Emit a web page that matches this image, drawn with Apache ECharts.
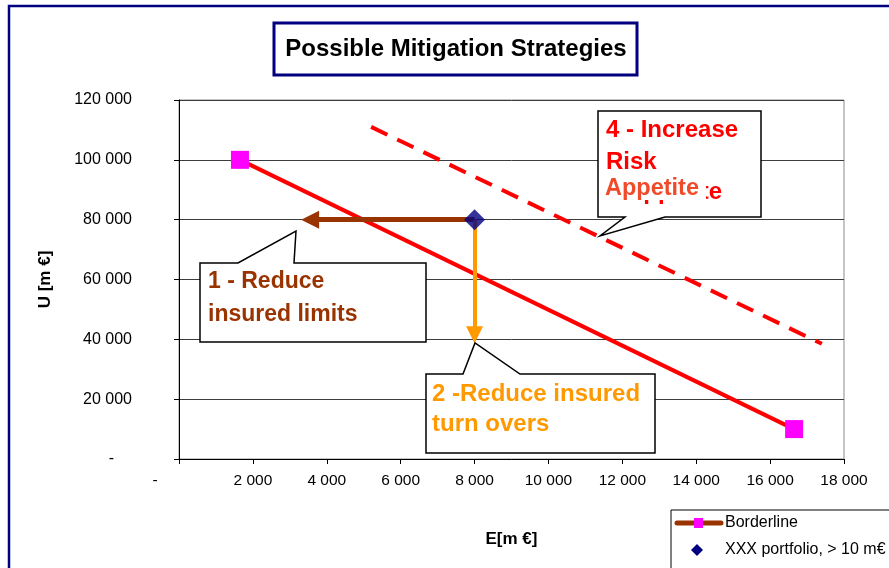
<!DOCTYPE html>
<html>
<head>
<meta charset="utf-8">
<script src="https://cdn.jsdelivr.net/npm/echarts@6/dist/echarts.min.js"></script>
<style>
  html, body { margin: 0; padding: 0; background: #fff; }
  #chart { width: 889px; height: 568px; }
</style>
</head>
<body>
<div id="chart"></div>
<script>
// Axis ranges and tick steps
const xRange = [0, 18000];
const xStep = 2000;
const yRange = [0, 120000];
const yStep = 20000;

// Borderline between the two end points (E, U)
const borderline = [[1650, 100000], [16650, 10000]];
// Shifted borderline after increasing risk appetite
const riskAppetiteLine = [[5200, 111000], [17400, 38500]];
// Current portfolio position
const portfolio = [[8000, 80000]];
// Strategy arrows: start and end of each move
const reduceLimitsArrow = [[8000, 80000], [3550, 80000]];
const reduceTurnoverArrow = [[8000, 80000], [8000, 41500]];

const FONT = 'Arial, "Liberation Sans", sans-serif';

function fmt(v) {
  return String(v).replace(/\B(?=(\d{3})+(?!\d))/g, ' ');
}

const chart = echarts.init(document.getElementById('chart'), null, { renderer: 'canvas' });

const option = {
  backgroundColor: '#ffffff',
  animation: false,
  grid: {
    left: 179, right: 45, top: 100, bottom: 109,
    show: true, borderColor: '#8c8c8c', borderWidth: 1, backgroundColor: 'transparent'
  },
  xAxis: {
    type: 'value', min: xRange[0], max: xRange[1], interval: xStep,
    name: 'E[m €]', nameLocation: 'middle', nameGap: 72,
    nameTextStyle: { fontFamily: FONT, fontWeight: 'bold', fontSize: 17, color: '#000' },
    axisLine: { show: true, onZero: false, lineStyle: { color: '#000', width: 1 } },
    axisTick: { show: true, length: 5, lineStyle: { color: '#000' } },
    splitLine: { show: false },
    axisLabel: {
      margin: 14, fontFamily: FONT, fontSize: 15.5, color: '#000',
      formatter: v => v === 0 ? '{z|-}' : fmt(v),
      rich: { z: { fontFamily: FONT, fontSize: 15.5, color: '#000', padding: [0, 48, 0, 0] } }
    }
  },
  yAxis: {
    type: 'value', min: yRange[0], max: yRange[1], interval: yStep,
    name: 'U [m €]', nameLocation: 'middle', nameGap: 125, nameRotate: 90,
    nameTextStyle: { fontFamily: FONT, fontWeight: 'bold', fontSize: 17, color: '#000' },
    axisLine: { show: true, onZero: false, lineStyle: { color: '#000', width: 1 } },
    axisTick: { show: true, length: 5, lineStyle: { color: '#000' } },
    splitLine: { show: true, lineStyle: { color: '#3c3c3c', width: 1 } },
    axisLabel: {
      margin: 47, fontFamily: FONT, fontSize: 16, color: '#000',
      formatter: v => v === 0 ? '{z|-}' : fmt(v),
      rich: { z: { fontFamily: FONT, fontSize: 16, color: '#000', padding: [0, 18, 0, 0] } }
    }
  },
  series: [
    {
      name: 'Increase risk appetite', type: 'line', data: riskAppetiteLine,
      symbol: 'none', z: 3,
      lineStyle: { color: '#ff0000', width: 4, type: [18, 11] }
    },
    {
      name: 'Borderline', type: 'line', data: borderline,
      symbol: 'rect', symbolSize: 18, z: 4,
      lineStyle: { color: '#ff0000', width: 4 },
      itemStyle: { color: '#ff00ff' }
    },
    {
      name: 'Reduce insured limits', type: 'lines', coordinateSystem: 'cartesian2d',
      z: 5, symbol: ['none', 'triangle'], symbolSize: 18,
      lineStyle: { color: '#993300', width: 5, opacity: 1, curveness: 0 },
      data: [{ coords: reduceLimitsArrow }]
    },
    {
      name: 'Reduce insured turn overs', type: 'lines', coordinateSystem: 'cartesian2d',
      z: 5, symbol: ['none', 'triangle'], symbolSize: 17,
      lineStyle: { color: '#ff9900', width: 4, opacity: 1, curveness: 0 },
      data: [{ coords: reduceTurnoverArrow }]
    },
    {
      name: 'XXX portfolio, > 10 m€', type: 'scatter', data: portfolio,
      symbol: 'diamond', symbolSize: 21, z: 6,
      itemStyle: { color: '#000080' }
    }
  ],
  graphic: [
    // outer chart frame
    { type: 'rect', z: 50, silent: true,
      shape: { x: 9, y: 6, width: 900, height: 600 },
      style: { fill: 'none', stroke: '#000080', lineWidth: 2.5 } },
    // title box
    { type: 'rect', z: 50, silent: true,
      shape: { x: 274, y: 23, width: 363, height: 52 },
      style: { fill: '#fff', stroke: '#000080', lineWidth: 3 } },
    { type: 'text', z: 51, silent: true, x: 456, y: 49,
      style: { text: 'Possible Mitigation Strategies', font: 'bold 24px ' + FONT,
               fill: '#000', align: 'center', verticalAlign: 'middle' } },

    // callout 1
    { type: 'polygon', z: 60, silent: true,
      shape: { points: [[200,263],[238,263],[296,231],[294,263],[426,263],[426,342],[200,342]] },
      style: { fill: '#fff', stroke: '#000', lineWidth: 1.5 } },
    { type: 'text', z: 61, silent: true, x: 208, y: 282,
      style: { text: '1 - Reduce', font: 'bold 23px ' + FONT, fill: '#993300', verticalAlign: 'middle' } },
    { type: 'text', z: 61, silent: true, x: 208, y: 315,
      style: { text: 'insured limits', font: 'bold 23px ' + FONT, fill: '#993300', verticalAlign: 'middle' } },

    // callout 2
    { type: 'polygon', z: 60, silent: true,
      shape: { points: [[426,374],[463,374],[475,343],[520,374],[655,374],[655,453],[426,453]] },
      style: { fill: '#fff', stroke: '#000', lineWidth: 1.5 } },
    { type: 'text', z: 61, silent: true, x: 432, y: 394,
      style: { text: '2 -Reduce insured', font: 'bold 24px ' + FONT, fill: '#ff9900', verticalAlign: 'middle' } },
    { type: 'text', z: 61, silent: true, x: 432, y: 424,
      style: { text: 'turn overs', font: 'bold 24px ' + FONT, fill: '#ff9900', verticalAlign: 'middle' } },

    // callout 4
    { type: 'polygon', z: 60, silent: true,
      shape: { points: [[598,111],[761,111],[761,217],[665,217],[600,236],[625,217],[598,217]] },
      style: { fill: '#fff', stroke: '#000', lineWidth: 1.5 } },
    { type: 'text', z: 61, silent: true, x: 606, y: 130,
      style: { text: '4 - Increase', font: 'bold 24px ' + FONT, fill: '#ff0000', verticalAlign: 'middle' } },
    { type: 'text', z: 61, silent: true, x: 606, y: 162,
      style: { text: 'Risk', font: 'bold 24px ' + FONT, fill: '#ff0000', verticalAlign: 'middle' } },
    { type: 'text', z: 61, silent: true, x: 722, y: 192,
      style: { text: 'Appetite', font: 'bold 24px ' + FONT, fill: '#ff0000', align: 'right', verticalAlign: 'middle' } },
    { type: 'rect', z: 62, silent: true,
      shape: { x: 602, y: 174, width: 104, height: 26 },
      style: { fill: '#fff' } },
    { type: 'text', z: 63, silent: true, x: 605, y: 189,
      style: { text: 'Appetite', font: 'bold 23.5px ' + FONT, fill: '#f04a2a', verticalAlign: 'middle' } },

    // legend
    { type: 'rect', z: 60, silent: true,
      shape: { x: 671, y: 510, width: 240, height: 80 },
      style: { fill: '#fff', stroke: '#000', lineWidth: 1 } },
    { type: 'line', z: 61, silent: true,
      shape: { x1: 677, y1: 523, x2: 721, y2: 523 },
      style: { stroke: '#993300', lineWidth: 5, lineCap: 'round' } },
    { type: 'rect', z: 62, silent: true,
      shape: { x: 694, y: 518, width: 9, height: 10 },
      style: { fill: '#ff00ff' } },
    { type: 'text', z: 61, silent: true, x: 725, y: 523,
      style: { text: 'Borderline', font: '16px ' + FONT, fill: '#000', verticalAlign: 'middle' } },
    { type: 'polygon', z: 61, silent: true,
      shape: { points: [[697,544],[703,550],[697,556],[691,550]] },
      style: { fill: '#000080' } },
    { type: 'text', z: 61, silent: true, x: 725, y: 550,
      style: { text: 'XXX portfolio, > 10 m€', font: '16px ' + FONT, fill: '#000', verticalAlign: 'middle' } }
  ]
};

chart.setOption(option);
</script>
</body>
</html>
